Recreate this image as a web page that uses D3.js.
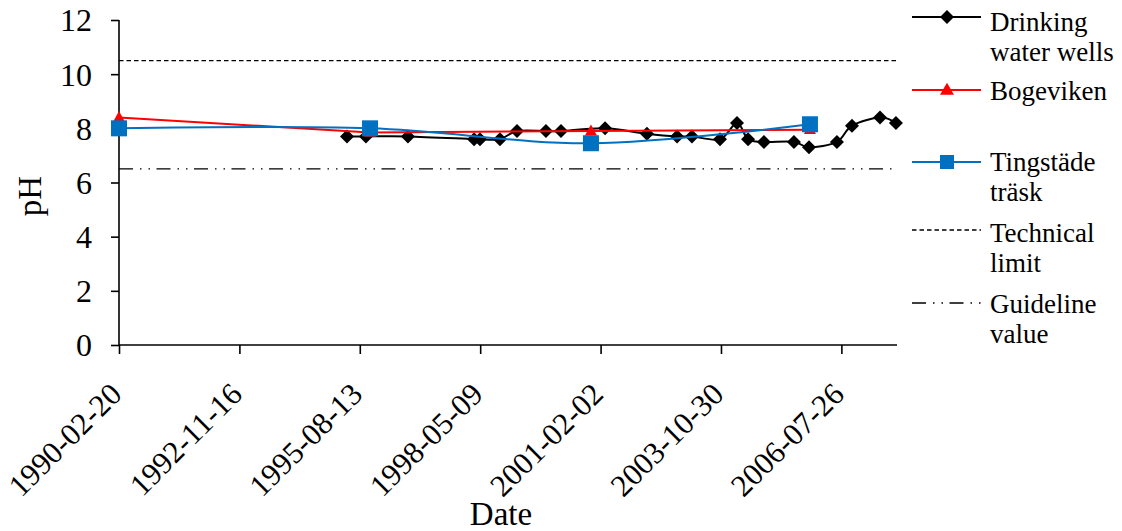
<!DOCTYPE html>
<html><head><meta charset="utf-8">
<script src="https://cdn.jsdelivr.net/npm/d3@7/dist/d3.min.js"></script>
<style>body{margin:0;background:#fff}svg{display:block}text{font-family:"Liberation Serif","Times New Roman",serif;fill:#000}</style>
</head><body><svg id="c" width="1122" height="531"></svg>
<script>
// ---- data ----
const wellDates = ["1995-04-29","1995-10-03","1996-09-16","1998-03-19","1998-05-07","1998-10-20","1999-03-11","1999-11-06","2000-03-10","2001-03-11","2002-02-22","2002-10-30","2003-03-03","2003-10-22","2004-03-11","2004-06-11","2004-10-21","2005-06-27","2005-10-30","2006-06-19","2006-10-22","2007-06-12","2007-10-22"];
const wellPH = [7.7,7.7,7.7,7.6,7.6,7.6,7.9,7.9,7.9,8.0,7.8,7.7,7.7,7.6,8.2,7.6,7.5,7.5,7.3,7.5,8.1,8.4,8.2];
const bogeDates = ["1990-02-20","1995-11-06","2000-11-14","2005-11-07"];
const bogePH = [8.4,7.85,7.9,7.95];
const tingDates = ["1990-02-20","1995-11-06","2000-11-14","2005-11-07"];
const tingPH = [8.0,8.0,7.45,8.15];
const technicalLimit = 10.5;
const guidelineValue = 6.5;
const xTickLabels = ["1990-02-20","1992-11-16","1995-08-13","1998-05-09","2001-02-02","2003-10-30","2006-07-26"];
const xDomain = ["1990-02-20","2007-10-31"];
const yTicks = [0,2,4,6,8,10,12];
const legendLabels = [["Drinking","water wells"],["Bogeviken"],["Tingstäde","träsk"],["Technical","limit"],["Guideline","value"]];

// ---- chart ----
const parse = d3.timeParse("%Y-%m-%d");
const svg = d3.select("#c");
const L = 119, R = 897, T = 20, B = 345;
const x = d3.scaleTime().domain(xDomain.map(parse)).range([L, R]);
const y = d3.scaleLinear().domain([0, 12]).range([B, T]);
const techDash = "4.5,3";
const guideDash = "14,7,1.5,7,1.5,6.5";

// reference lines
svg.append("line").attr("x1", L).attr("x2", R).attr("y1", y(technicalLimit)).attr("y2", y(technicalLimit))
  .attr("stroke", "#000").attr("stroke-width", 1.3).attr("stroke-dasharray", techDash);
svg.append("line").attr("x1", L).attr("x2", R).attr("y1", y(guidelineValue)).attr("y2", y(guidelineValue))
  .attr("stroke", "#000").attr("stroke-width", 1.3).attr("stroke-dasharray", guideDash);

// axes
const yAxis = d3.axisLeft(y).tickValues(yTicks).tickSize(8).tickPadding(19).tickFormat(d3.format("d"));
const gy = svg.append("g").attr("transform", `translate(${L},0)`).call(yAxis);
gy.select(".domain").attr("stroke-width", 1.6).attr("d", `M-0,${T}H0V${B}`);
gy.selectAll(".tick line").attr("stroke-width", 1.6);
gy.selectAll("text").attr("font-size", 32).attr("font-family", "Liberation Serif").attr("dy", "0.34em");

const xAxis = d3.axisBottom(x).tickValues(xTickLabels.map(parse)).tickSize(9).tickFormat(d3.timeFormat("%Y-%m-%d"));
const gx = svg.append("g").attr("transform", `translate(0,${B})`).call(xAxis);
gx.select(".domain").attr("stroke-width", 1.6).attr("d", `M${L},0H${R}`);
gx.selectAll(".tick line").attr("stroke-width", 1.6);
gx.selectAll("text").attr("font-size", 31).attr("font-family", "Liberation Serif")
  .attr("text-anchor", "end").attr("dy", null).attr("y", 0)
  .attr("transform", "translate(4,51) rotate(-45)");

// titles
svg.append("text").attr("x", 501).attr("y", 525).attr("text-anchor", "middle").attr("font-size", 33).text("Date");
svg.append("text").attr("transform", "translate(41,196) rotate(-90)").attr("text-anchor", "middle").attr("font-size", 33).text("pH");

// series
const curve = d3.curveCardinal.tension(0);
function series(dates, vals, color, c) {
  const pts = dates.map((d, i) => [x(parse(d)), y(vals[i])]);
  svg.append("path").attr("d", d3.line().curve(c)(pts)).attr("fill", "none").attr("stroke", color).attr("stroke-width", 2);
  return pts;
}
const diamond = (cx, cy, s) => `M${cx},${cy - s}L${cx + s},${cy}L${cx},${cy + s}L${cx - s},${cy}Z`;
const tri = (cx, cy, w, h) => `M${cx},${cy - h * 0.6}L${cx + w / 2},${cy + h * 0.4}L${cx - w / 2},${cy + h * 0.4}Z`;

const wp = series(wellDates, wellPH, "#000", curve);
svg.append("g").selectAll("path").data(wp).join("path").attr("d", p => diamond(p[0], p[1], 7)).attr("fill", "#000");
const bp = series(bogeDates, bogePH, "#FF0000", d3.curveLinear);
svg.append("g").selectAll("path").data(bp).join("path").attr("d", p => tri(p[0], p[1], 12, 11)).attr("fill", "#FF0000");
const tp = series(tingDates, tingPH, "#0070C0", curve);
svg.append("g").selectAll("rect").data(tp).join("rect")
  .attr("x", p => p[0] - 8).attr("y", p => p[1] - 8).attr("width", 16).attr("height", 16).attr("fill", "#0070C0");

// legend
const lg = svg.append("g");
const symY = [17, 90, 162, 230, 303];
const baseY = [31, 100, 171, 242, 313];
const lineH = 30;
legendLabels.forEach((lines, i) => {
  const ln = lg.append("line").attr("x1", 912).attr("x2", 981).attr("y1", symY[i]).attr("y2", symY[i]).attr("stroke-width", i < 3 ? 2 : 1.3);
  if (i === 0) { ln.attr("stroke", "#000"); lg.append("path").attr("d", diamond(947, symY[i], 7)).attr("fill", "#000"); }
  if (i === 1) { ln.attr("stroke", "#FF0000"); lg.append("path").attr("d", tri(947, symY[i], 14, 12)).attr("fill", "#FF0000"); }
  if (i === 2) { ln.attr("stroke", "#0070C0"); lg.append("rect").attr("x", 940).attr("y", symY[i] - 7).attr("width", 14).attr("height", 14).attr("fill", "#0070C0"); }
  if (i === 3) { ln.attr("stroke", "#000").attr("stroke-dasharray", techDash); }
  if (i === 4) { ln.attr("stroke", "#000").attr("stroke-dasharray", guideDash); }
  const t = lg.append("text").attr("x", 990).attr("y", baseY[i]).attr("font-size", 27);
  lines.forEach((s, j) => t.append("tspan").attr("x", 990).attr("y", baseY[i] + j * lineH).text(s));
});
</script></body></html>
